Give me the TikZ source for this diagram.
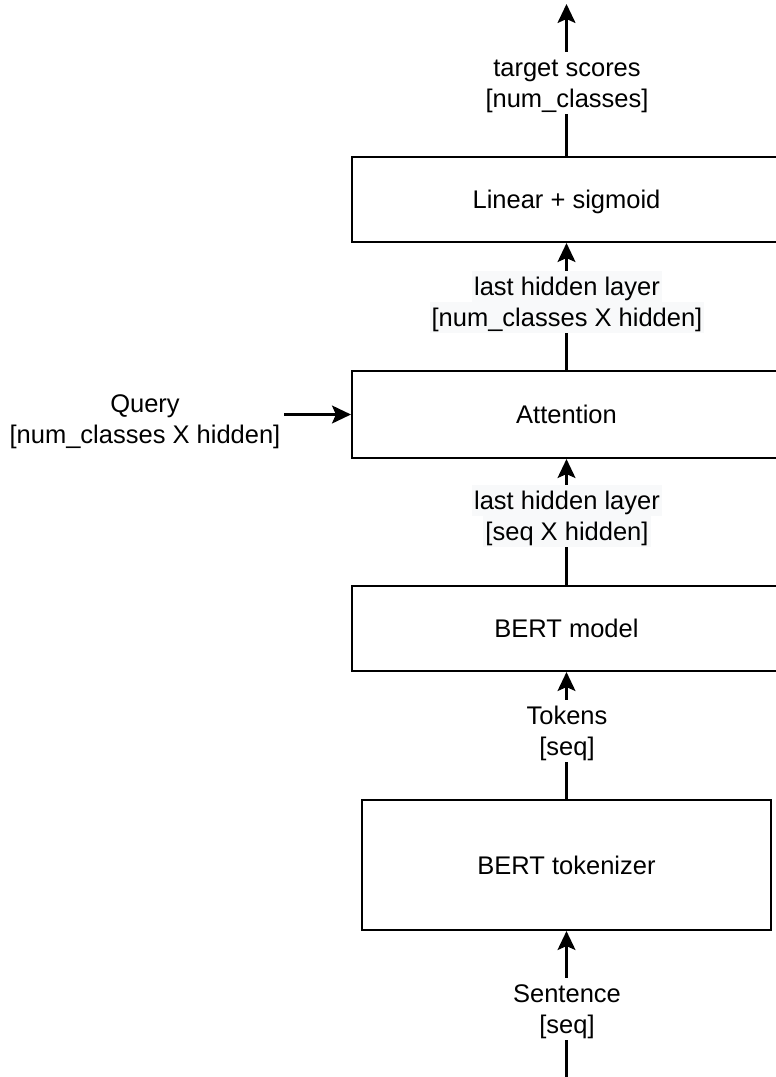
\documentclass[tikz,border=0pt]{standalone}
\usepackage{fontspec}
\setmainfont{Liberation Sans}
\usetikzlibrary{arrows.meta}
\definecolor{labelgrey}{RGB}{248,249,250}
\begin{document}
\begin{tikzpicture}[x=1pt,y=-1pt,
  every node/.style={font=\fontsize{25.5}{30}\selectfont, text height=21pt, text depth=3pt},
  block/.style={draw, line width=2.1pt, fill=white, inner sep=0pt},
  lbl/.style={fill=white, inner xsep=2pt, inner ysep=0pt, minimum height=31pt},
  greylbl/.style={lbl, fill=labelgrey},
  flow/.style={line width=2.1pt, -{Stealth[length=19pt,width=18pt,inset=4pt]}},
]
\useasboundingbox (0,0) rectangle (776,1077);

% processing blocks
\node[block, minimum width=429pt, minimum height=85pt] (lin) at (566.5,199.5) {Linear + sigmoid};
\node[block, minimum width=429pt, minimum height=87pt] (att) at (566.5,414.5) {Attention};
\node[block, minimum width=429pt, minimum height=85pt] (bert) at (566.5,628.5) {BERT model};
\node[block, minimum width=409pt, minimum height=130pt] (tok) at (566.5,865) {BERT tokenizer};

% free ends of the input / output arrows
\coordinate (out) at (566.5,4);
\coordinate (in) at (566.5,1085);
\coordinate (qs) at (284,414.5);

% connectors
\draw[flow] (lin.north) -- (out);
\draw[flow] (att.north) -- (lin.south);
\draw[flow] (bert.north) -- (att.south);
\draw[flow] (tok.north) -- (bert.south);
\draw[flow] (in) -- (tok.south);
\draw[flow] (qs) -- (att.west);

% edge labels
\node[lbl] (ts1) at (567,67) {target scores};
\node[lbl] (ts2) at (567,98) {[num\_classes]};
\node[greylbl] (h1) at (567,286.5) {last hidden layer};
\node[greylbl] (h2) at (567,317.5) {[num\_classes X hidden]};
\node[greylbl] (s1) at (567,500.5) {last hidden layer};
\node[greylbl] (s2) at (567,531.5) {[seq X hidden]};
\node[lbl] (t1) at (567,715) {Tokens};
\node[lbl] (t2) at (567,746) {[seq]};
\node[lbl] (se1) at (567,993) {Sentence};
\node[lbl] (se2) at (567,1024) {[seq]};

% query input
\node (q1) at (145,403) {Query};
\node (q2) at (145,434) {[num\_classes X hidden]};
\end{tikzpicture}
\end{document}
